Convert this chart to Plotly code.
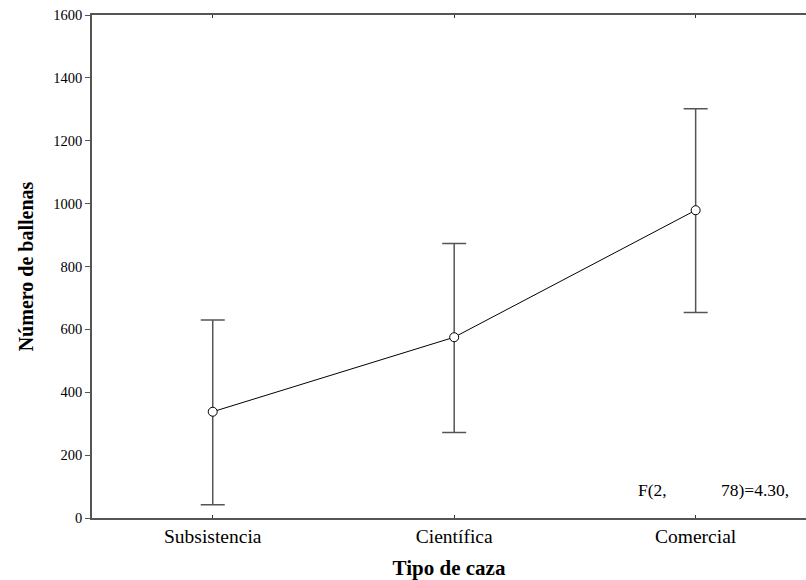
import plotly.graph_objects as go

categories = ["Subsistencia", "Científica", "Comercial"]
means = [338, 575, 979]
err_hi = [292, 298, 323]
err_lo = [296, 303, 325]
y_ticks = [0, 200, 400, 600, 800, 1000, 1200, 1400, 1600]

fig = go.Figure()
fig.add_trace(go.Scatter(
    x=categories, y=means, mode="lines+markers",
    line=dict(color="black", width=1),
    marker=dict(size=9, color="white", line=dict(color="black", width=1)),
    error_y=dict(type="data", symmetric=False, array=err_hi, arrayminus=err_lo,
                 color="#555555", thickness=1.5, width=12),
    showlegend=False,
))

font = "Liberation Serif, Times New Roman, serif"
fig.update_layout(
    width=806, height=580,
    margin=dict(l=92, r=0, t=15, b=62),
    paper_bgcolor="white", plot_bgcolor="white",
    font=dict(family=font, color="black"),
    xaxis=dict(range=[-0.5, 2.457], showline=True, linecolor="#555555", linewidth=1.5,
               mirror="ticks", ticks="inside", ticklen=3, tickcolor="#333333",
               showgrid=False, zeroline=False, tickfont=dict(size=19.5),
               title=dict(text="<b>Tipo de caza</b>", font=dict(size=21), standoff=15)),
    yaxis=dict(range=[0, 1600], tickvals=y_ticks, showline=True, linecolor="#555555",
               linewidth=1.5, ticks="outside", ticklen=5, tickcolor="#555555",
               showgrid=False, zeroline=False, tickfont=dict(size=14.5),
               title=dict(text="<b>Número de ballenas</b>", font=dict(size=20), standoff=14)),
)
fig.add_annotation(text="F(2,", xref="paper", yref="paper", x=(636 - 92) / 714, y=0.055,
                   xanchor="left", yanchor="middle", showarrow=False, font=dict(size=17.5))
fig.add_annotation(text="78)=4.30,", xref="paper", yref="paper", x=(719 - 92) / 714, y=0.055,
                   xanchor="left", yanchor="middle", showarrow=False, font=dict(size=17.5))
fig.write_html("out.html", config={"displayModeBar": False},
               post_script="document.body.style.margin='0';document.body.style.overflow='hidden';")
